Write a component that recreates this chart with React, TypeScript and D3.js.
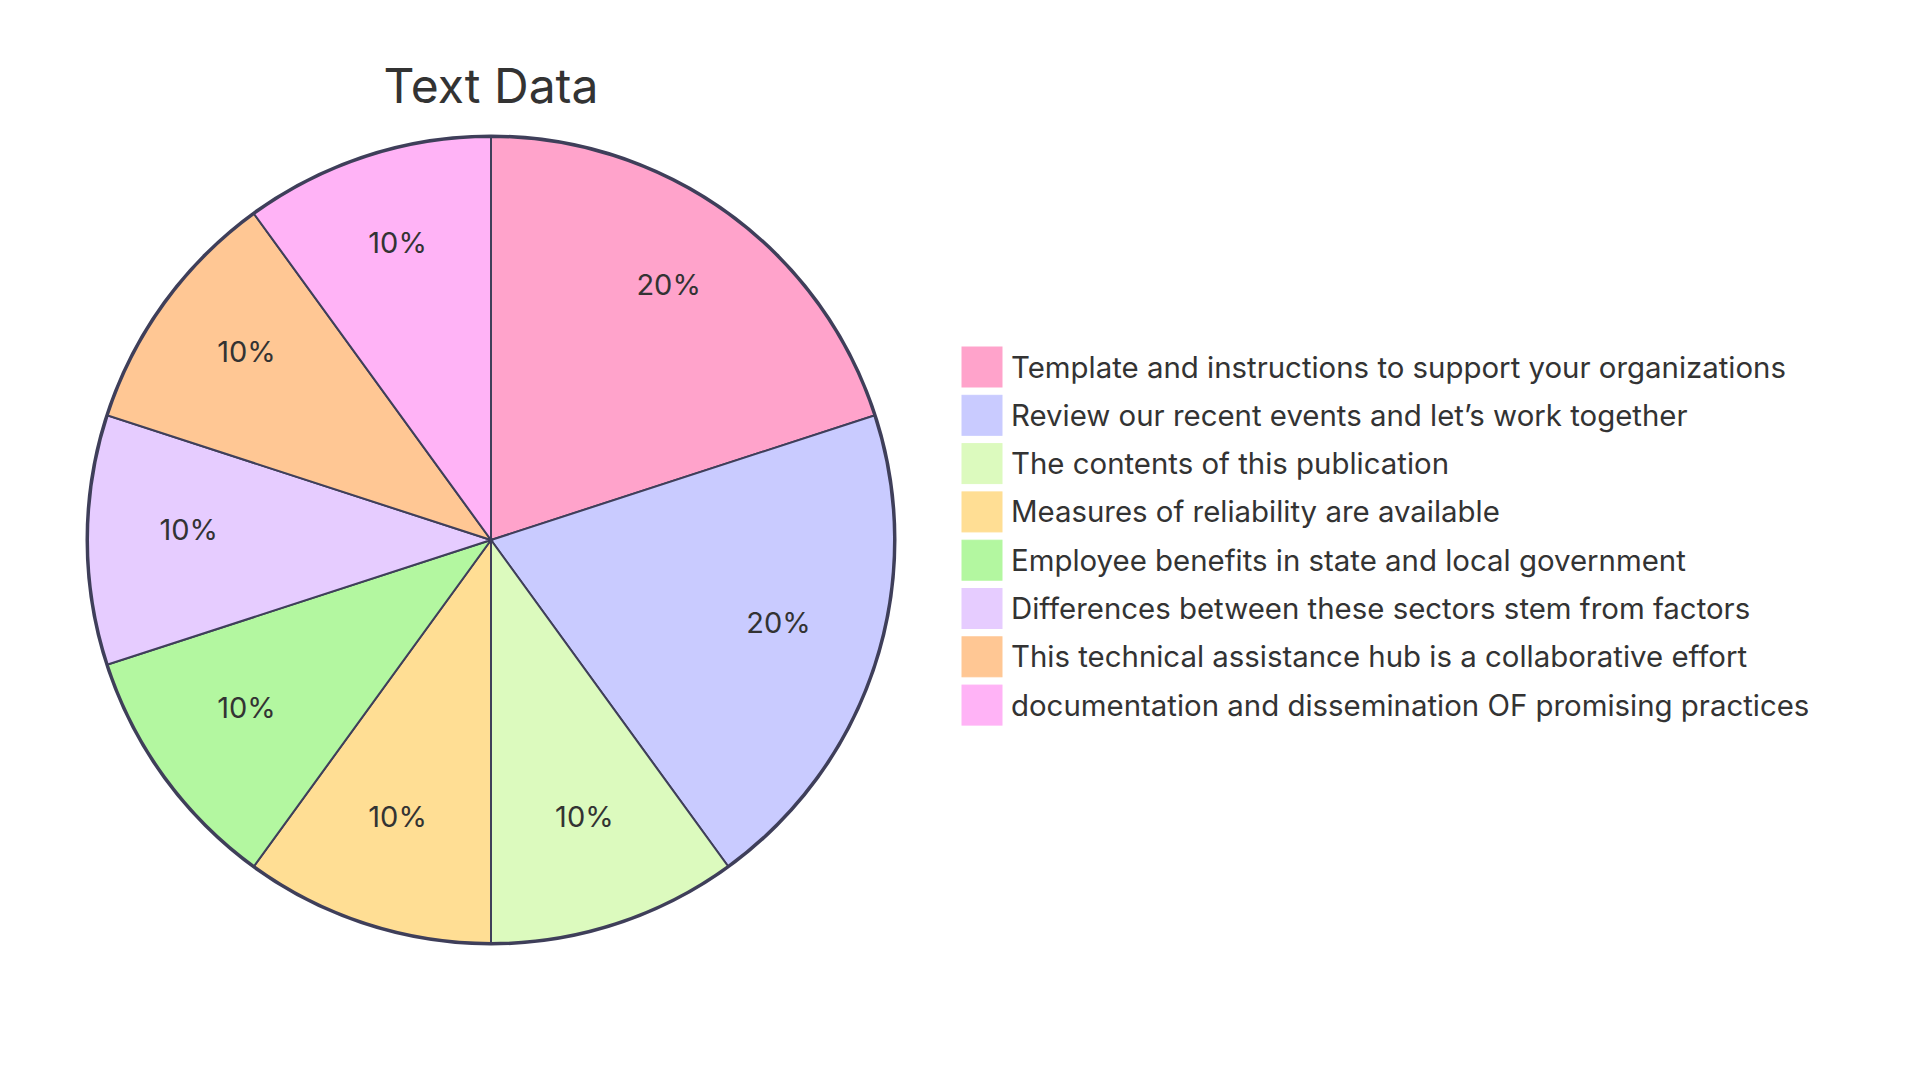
import * as d3 from "d3";

const labels = [
  "Template and instructions to support your organizations",
  "Review our recent events and let\u2019s work together",
  "The contents of this publication",
  "Measures of reliability are available",
  "Employee benefits in state and local government",
  "Differences between these sectors stem from factors",
  "This technical assistance hub is a collaborative effort",
  "documentation and dissemination OF promising practices",
];
const values = [20, 20, 10, 10, 10, 10, 10, 10];
const colors = [
  "#FFA3CB",
  "#C9CBFF",
  "#DCFABE",
  "#FFDE94",
  "#B3F7A0",
  "#E6CCFF",
  "#FFC794",
  "#FFB3F6",
];

const W = 1920;
const H = 1080;
const cx = 491;
const cy = 540;
const R = 403;
const FONT = "Inter, 'Open Sans', sans-serif";
const INK = "#333333";

interface Slice {
  label: string;
  value: number;
  color: string;
}

const slices: Slice[] = labels.map((label, i) => ({
  label,
  value: values[i],
  color: colors[i],
}));

export default function App() {
  const pie = d3
    .pie<Slice>()
    .value((d) => d.value)
    .sort(null);
  const arcs = pie(slices);
  const arc = d3.arc<d3.PieArcDatum<Slice>>().innerRadius(0).outerRadius(R);
  // label ring at 3/4 of the radius, text baseline sits on the centroid
  const labelArc = d3
    .arc<d3.PieArcDatum<Slice>>()
    .innerRadius(R * 0.75)
    .outerRadius(R * 0.75);
  const total = d3.sum(values);

  const legendX = 962;
  const legendY = 347;
  const step = 48.3;
  const box = 40;

  return (
    <svg
      width={W}
      height={H}
      style={{ position: "absolute", left: 0, top: 0, background: "#fff" }}
    >
      <text
        x={cx}
        y={103}
        textAnchor="middle"
        fontFamily={FONT}
        fontSize={48}
        fill={INK}
      >
        Text Data
      </text>
      <g transform={`translate(${cx},${cy})`}>
        <circle r={R + 1} fill="none" stroke="#3f3f5a" strokeWidth={3} />
        {arcs.map((a, i) => (
          <path
            key={i}
            d={arc(a) ?? ""}
            fill={a.data.color}
            stroke="#3f3f5a"
            strokeWidth={2}
          />
        ))}
        {arcs.map((a, i) => {
          const [x, y] = labelArc.centroid(a);
          return (
            <text
              key={i}
              x={x}
              y={y}
              textAnchor="middle"
              fontFamily={FONT}
              fontSize={29}
              fill={INK}
            >
              {d3.format(".0f")((a.data.value / total) * 100)}%
            </text>
          );
        })}
      </g>
      <g transform={`translate(${legendX},${legendY})`}>
        {slices.map((s, i) => (
          <g key={i} transform={`translate(0,${i * step})`}>
            <rect
              width={box}
              height={box}
              fill={s.color}
              stroke={s.color}
              strokeWidth={1}
            />
            <text
              x={49}
              y={box / 2}
              dominantBaseline="central"
              fontFamily={FONT}
              fontSize={29.4}
              fill={INK}
            >
              {s.label}
            </text>
          </g>
        ))}
      </g>
    </svg>
  );
}
